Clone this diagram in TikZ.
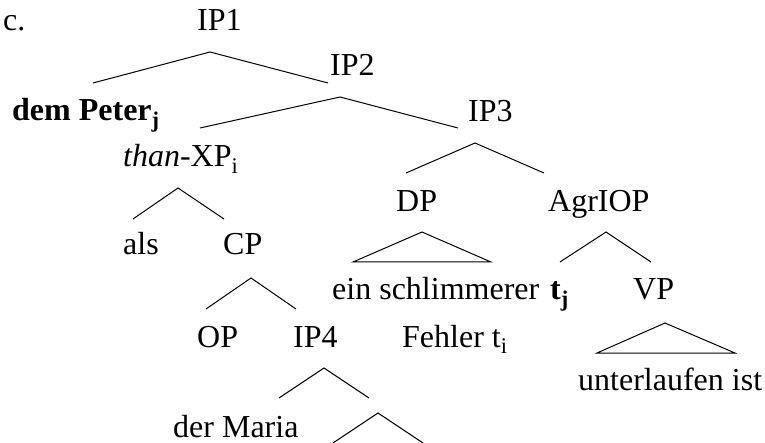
\documentclass[tikz,border=0pt]{standalone}
\usepackage{fontspec}
\setmainfont{Liberation Serif}
\begin{document}
\begin{tikzpicture}[x=1pt,y=-1pt,
  lbl/.style={anchor=base west,inner sep=0pt,font=\fontsize{32}{36}\selectfont},
  branch/.style={line width=1pt,line join=miter}]
\useasboundingbox (0,0) rectangle (765,443);
% labels
\node[lbl] (c)     at (3,31)   {c.};
\node[lbl] (ip1)   at (197,31) {IP1};
\node[lbl] (ip2)   at (330,76) {IP2};
\node[lbl] (peter) at (12,121) {\textbf{dem Peter\textsubscript{j}}};
\node[lbl] (ip3)   at (468,122) {IP3};
\node[lbl] (xp)    at (123,167) {\textit{than}-XP\textsubscript{i}};
\node[lbl] (als)   at (123,255) {als};
\node[lbl] (cp)    at (223,255) {CP};
\node[lbl] (dp)    at (396,212) {DP};
\node[lbl] (agr)   at (548,212) {AgrIOP};
\node[lbl] (ein)   at (332,300) {ein schlimmerer};
\node[lbl] (tj)    at (550,300) {\textbf{t\textsubscript{j}}};
\node[lbl] (vp)    at (633,300) {VP};
\node[lbl] (op)    at (197,347) {OP};
\node[lbl] (ip4)   at (293,347) {IP4};
\node[lbl] (fehler) at (402,347) {Fehler t\textsubscript{i}};
\node[lbl] (unter) at (578,390) {unterlaufen ist};
\node[lbl] (maria) at (173,437) {der Maria};
% branch points
\coordinate (ip1t) at (210,52);  \coordinate (ip1l) at (93,83);   \coordinate (ip1r) at (328,83);
\coordinate (ip2t) at (340,97);  \coordinate (ip2l) at (200,128); \coordinate (ip2r) at (458,128);
\coordinate (ip3t) at (475,143); \coordinate (ip3l) at (406,173); \coordinate (ip3r) at (544,173);
\coordinate (xpt)  at (178,188); \coordinate (xpl)  at (133,219); \coordinate (xpr)  at (224,219);
\coordinate (cpt)  at (251,278); \coordinate (cpl)  at (206,309); \coordinate (cpr)  at (296,309);
\coordinate (dpt)  at (422,232); \coordinate (dpl)  at (353,262); \coordinate (dpr)  at (491,262);
\coordinate (agrt) at (606,232); \coordinate (agrl) at (560,262); \coordinate (agrr) at (651,262);
\coordinate (vpt)  at (665,323); \coordinate (vpl)  at (597,353); \coordinate (vpr)  at (735,353);
\coordinate (ip4t) at (324,368); \coordinate (ip4l) at (279,398); \coordinate (ip4r) at (369,398);
\coordinate (lt)   at (378,413); \coordinate (ll)   at (333,443); \coordinate (lr)   at (423,443);
% branches
\draw[branch] (ip1l) -- (ip1t) -- (ip1r);
\draw[branch] (ip2l) -- (ip2t) -- (ip2r);
\draw[branch] (ip3l) -- (ip3t) -- (ip3r);
\draw[branch] (xpl) -- (xpt) -- (xpr);
\draw[branch] (cpl) -- (cpt) -- (cpr);
\draw[branch] (dpl) -- (dpt) -- (dpr) -- cycle;
\draw[branch] (agrl) -- (agrt) -- (agrr);
\draw[branch] (vpl) -- (vpt) -- (vpr) -- cycle;
\draw[branch] (ip4l) -- (ip4t) -- (ip4r);
\draw[branch] (ll) -- (lt) -- (lr);
\end{tikzpicture}
\end{document}
